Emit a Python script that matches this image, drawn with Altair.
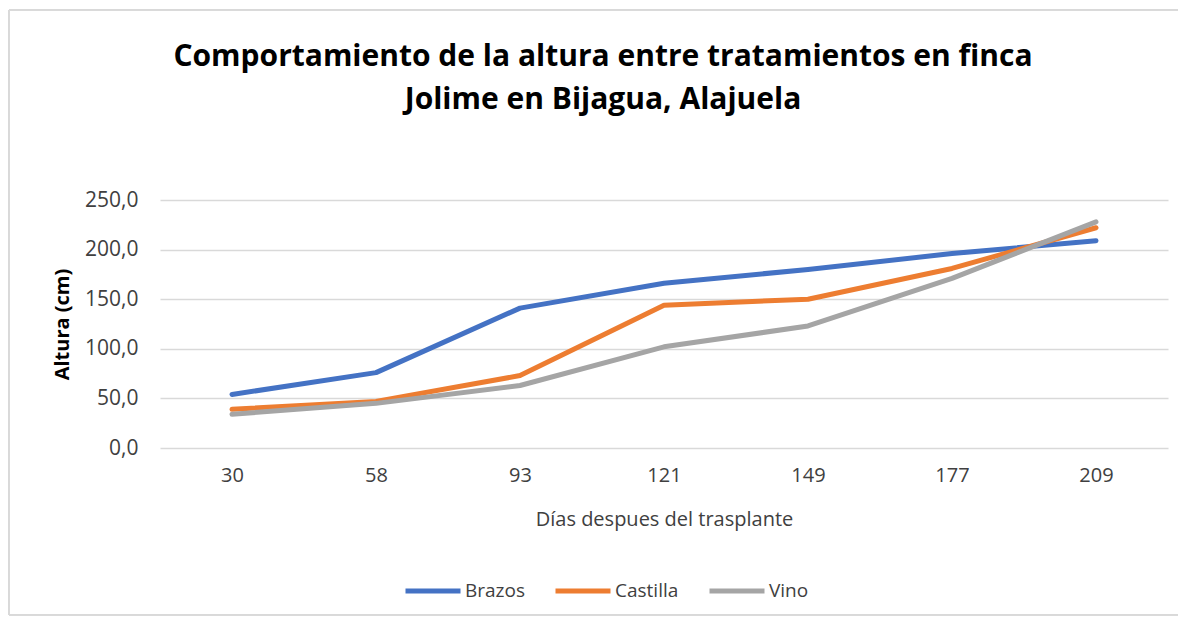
import altair as alt
import pandas as pd

dias = ["30", "58", "93", "121", "149", "177", "209"]
brazos = [54, 76, 141, 166, 180, 196, 209]
castilla = [39, 47, 73, 144, 150, 181, 222]
vino = [34, 45, 63, 102, 123, 171, 228]
series = ["Brazos", "Castilla", "Vino"]
colors = ["#4472C4", "#ED7D31", "#A5A5A5"]
title_lines = ["Comportamiento de la altura entre tratamientos en finca", "Jolime en Bijagua, Alajuela"]

rows = []
for name, vals in zip(series, [brazos, castilla, vino]):
    for i, (d, v) in enumerate(zip(dias, vals)):
        rows.append({"Dia": d, "Altura": v, "Serie": name, "ord": i})
df = pd.DataFrame(rows)

FONT = "Open Sans"
TXT = "#404040"

lines = alt.Chart(df).mark_line(strokeWidth=5, strokeCap="round", strokeJoin="round").encode(
    x=alt.X("Dia:O", sort=dias, scale=alt.Scale(paddingOuter=0.5),
            axis=alt.Axis(title="Días despues del trasplante", labelAngle=0, labelFontSize=20,
                          labelColor=TXT, titleFontSize=20, titleFontWeight="normal",
                          titleColor=TXT, titlePadding=24, labelPadding=17,
                          domain=False, ticks=False, labelFont=FONT, titleFont=FONT)),
    y=alt.Y("Altura:Q", scale=alt.Scale(domain=[0, 250]),
            axis=alt.Axis(title="Altura (cm)", values=[0, 50, 100, 150, 200, 250],
                          labelExpr="replace(format(datum.value, '.1f'), '.', ',')",
                          labelFontSize=21, labelColor=TXT, titleFontSize=20,
                          titleFontWeight="bold", titleColor="#000000", titlePadding=12,
                          labelPadding=22, domain=False, ticks=False, grid=True,
                          gridColor="#d9d9d9", gridWidth=1.5, labelFont=FONT, titleFont=FONT)),
    color=alt.Color("Serie:N", scale=alt.Scale(domain=series, range=colors),
                    legend=alt.Legend(title=None, orient="none", direction="horizontal",
                                      legendX=243, legendY=361, symbolType="stroke",
                                      symbolSize=3025, symbolStrokeWidth=5, labelFontSize=19,
                                      labelColor=TXT, labelFont=FONT, columnPadding=20,
                                      labelOffset=2)),
    order="ord:Q",
)

frame = alt.Chart(df).mark_rect(fill="transparent", stroke="#d9d9d9", strokeWidth=1).encode(
    x=alt.value(-151), x2=alt.value(1019), y=alt.value(-190), y2=alt.value(415)
)

t1 = alt.Chart(pd.DataFrame({"t": [title_lines[0]]})).mark_text(
    fontSize=30, fontWeight="bold", font=FONT, color="#000000", align="center", baseline="middle"
).encode(text="t:N", x=alt.value(443), y=alt.value(-143))
t2 = alt.Chart(pd.DataFrame({"t": [title_lines[1]]})).mark_text(
    fontSize=30, fontWeight="bold", font=FONT, color="#000000", align="center", baseline="middle"
).encode(text="t:N", x=alt.value(443), y=alt.value(-100))

chart = alt.layer(frame, lines, t1, t2).properties(
    width=1008, height=248,
    autosize=alt.AutoSizeParams(type="none"),
    padding={"left": 152, "top": 192, "right": 10, "bottom": 172},
).configure_view(stroke=None)

chart.save("out.html", embed_options={"renderer": "svg", "actions": False})
